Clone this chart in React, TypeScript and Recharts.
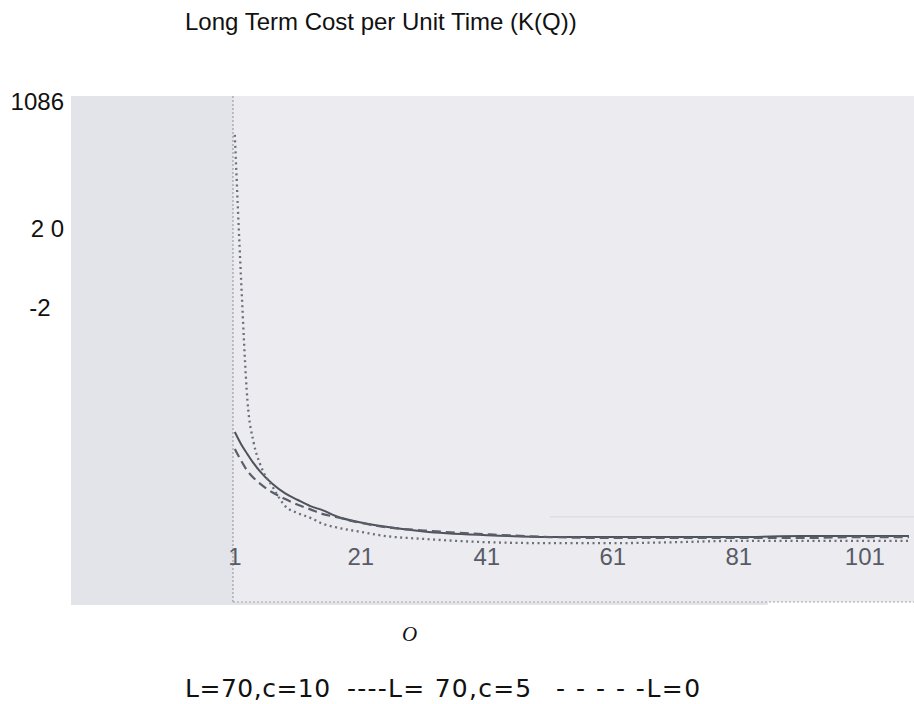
import { LineChart, Line, XAxis, YAxis, ReferenceArea, ReferenceLine, Legend } from 'recharts';

// order quantity Q and the three cost curves
const orderQty = [1, 2, 3, 4, 5, 7, 9, 11, 13, 15, 17, 21, 25, 31, 41, 51, 61, 71, 81, 91, 101, 108];
const costL70c10 = [369, 343, 322, 302, 285, 258, 238, 224, 211, 202, 190, 176, 167, 157, 149, 145, 145, 145, 145, 147, 147, 147];
const costL70c5 = [333, 308, 286, 271, 259, 240, 226, 214, 204, 194, 188, 175, 166, 159, 151, 145, 143, 143, 143, 143, 145, 145];
const costL0 = [1003, 693, 437, 346, 301, 252, 211, 196, 186, 173, 166, 156, 147, 141, 134, 132, 132, 134, 137, 137, 137, 137];

const xTicks = [1, 21, 41, 61, 81, 101];
const yTicks = [1075, 804, 634];
const yTickLabels = ['1086', '2 0', '-2\u00a0\u00a0'];

const legendParts = ['L=70,c=10', '----L= 70,c=5', '- - - - -L=0'];

const chartData = orderQty.map((q, i) => ({
  q,
  a: costL70c10[i],
  b: costL70c5[i],
  c: costL0[i],
}));

const YTick = ({ x, y, index }: any) => (
  <text x={x} y={y} dy="0.355em" textAnchor="end" fontFamily="Liberation Sans, Arial, sans-serif" fontSize={24} fill="#111">
    {yTickLabels[index]}
  </text>
);

const XTick = ({ x, y, payload }: any) => (
  <text x={x} y={y - 40} textAnchor="middle" fontFamily="Liberation Sans, Arial, sans-serif" fontSize={24} fill="#575b65">
    {payload.value}
  </text>
);

const LegendText = () => (
  <div style={{ position: 'relative', width: 530, height: 25, fontFamily: 'DejaVu Sans', fontSize: 25, lineHeight: '25px', whiteSpace: 'pre', color: '#111' }}>
    <span style={{ position: 'absolute', left: 0, letterSpacing: 0.5 }}>{legendParts[0]}</span>
    <span style={{ position: 'absolute', left: 162, letterSpacing: 1.25 }}>{legendParts[1]}</span>
    <span style={{ position: 'absolute', left: 371, letterSpacing: 1.5 }}>{legendParts[2]}</span>
  </div>
);

export default function App() {
  return (
    <div style={{ position: 'absolute', left: 0, top: 0, width: 914, height: 704 }}>
      <div style={{ position: 'absolute', left: 185, top: 10, fontFamily: 'Liberation Sans, Arial', fontSize: 24, lineHeight: '24px', color: '#111', whiteSpace: 'pre' }}>
        Long Term Cost per Unit Time (K(Q))
      </div>
      <div style={{ position: 'absolute', left: 402, top: 624, fontFamily: 'Liberation Serif, Times New Roman', fontStyle: 'italic', fontSize: 21, lineHeight: '21px', color: '#111' }}>
        O
      </div>
      <LineChart width={914} height={704} data={chartData} margin={{ top: 96, right: 0, bottom: 69, left: 0 }}>
        <XAxis dataKey="q" type="number" domain={[-25, 108.8]} ticks={xTicks} allowDataOverflow axisLine={false} tickLine={false} tickSize={0} tickMargin={0} height={30} tick={<XTick />} interval={0} />
        <YAxis type="number" domain={[0, 1086]} ticks={yTicks} width={71} axisLine={false} tickLine={false} tickSize={0} tickMargin={7} tick={<YTick />} interval={0} />
        <ReferenceArea x1={-25} x2={85.6} y1={0} y2={1086} fill="#e3e4e9" fillOpacity={1} />
        <ReferenceArea x1={0.71} x2={108.8} y1={6.4} y2={1086} fill="#ebebf0" fillOpacity={1} />
        <ReferenceLine segment={[{ x: 0.71, y: 6.4 }, { x: 0.71, y: 1086 }]} stroke="#8e919a" strokeDasharray="2 2" />
        <ReferenceLine segment={[{ x: 0.71, y: 6.4 }, { x: 108.8, y: 6.4 }]} stroke="#a3a5ad" strokeDasharray="2 2" />
        <ReferenceLine segment={[{ x: 51, y: 188 }, { x: 108.8, y: 188 }]} stroke="#d6d7de" />
        <Line type="monotone" dataKey="a" stroke="#4e525c" strokeWidth={2} dot={false} isAnimationActive={false} />
        <Line type="monotone" dataKey="b" stroke="#5a5e68" strokeWidth={2.2} strokeDasharray="9 5" dot={false} isAnimationActive={false} />
        <Line type="monotone" dataKey="c" stroke="#6b6f79" strokeWidth={2.3} strokeDasharray="2 3.5" dot={false} isAnimationActive={false} />
        <Legend layout="vertical" align="center" verticalAlign="middle" content={<LegendText />} wrapperStyle={{ left: 185, top: 676, width: 'auto', height: 'auto' }} />
      </LineChart>
    </div>
  );
}
